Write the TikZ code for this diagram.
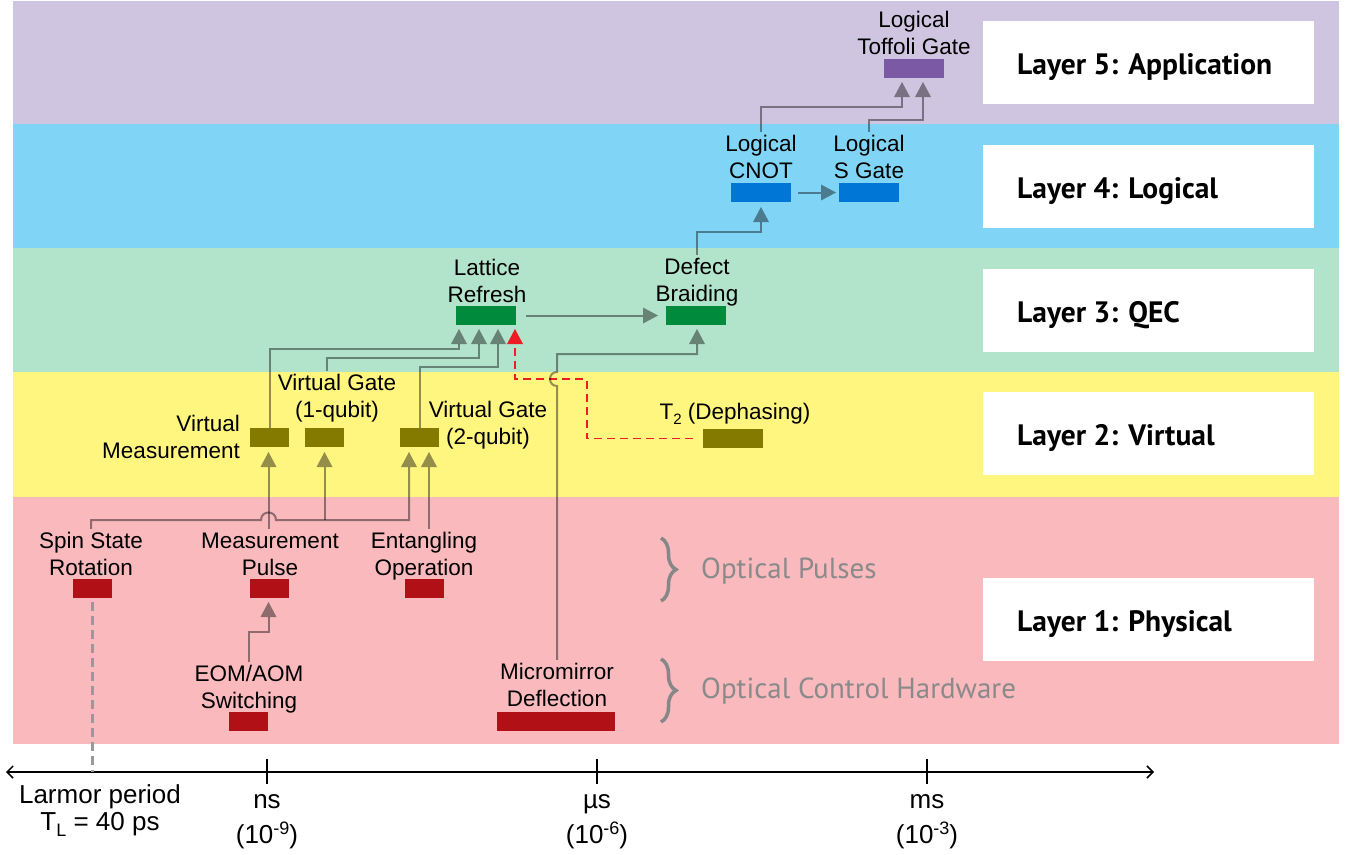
\documentclass[tikz,border=0pt]{standalone}
\usepackage{fontspec}
\setmainfont{Liberation Sans}
\newfontfamily\ptsans{PT Sans}
\usetikzlibrary{arrows.meta,decorations.pathreplacing}

% layer bands
\definecolor{bandApp}{HTML}{D0C5E0}
\definecolor{bandLog}{HTML}{80D5F7}
\definecolor{bandQec}{HTML}{B2E3CB}
\definecolor{bandVir}{HTML}{FFF680}
\definecolor{bandPhy}{HTML}{F9B9BD}
% operation bars
\definecolor{gatePurple}{HTML}{7B59A5}
\definecolor{gateBlue}{HTML}{0077D7}
\definecolor{gateGreen}{HTML}{008A3C}
\definecolor{gateOlive}{HTML}{857A00}
\definecolor{gateRed}{HTML}{B11116}
\definecolor{noteGrey}{HTML}{8A8A8A}
\definecolor{braceGrey}{HTML}{878787}
\definecolor{errRed}{HTML}{EE1C24}
\definecolor{larmorGrey}{HTML}{999999}

\newcommand\twoline[2]{\begin{tabular}[b]{@{}c@{}}#1\\#2\end{tabular}}
\newcommand\twolineR[2]{\begin{tabular}[b]{@{}r@{}}#1\\#2\end{tabular}}
\newcommand\twolineS[2]{\begin{tabular}[b]{@{}c@{}}#1\\[5pt]#2\end{tabular}}
\newcommand\lowidx[1]{\raisebox{-5pt}{\fontsize{15}{15}\selectfont #1}}
\newcommand\lowidxL[1]{\raisebox{-6pt}{\fontsize{18}{18}\selectfont #1}}
\newcommand\highidx[1]{\raisebox{9pt}{\fontsize{18}{18}\selectfont #1}}

\begin{document}
\begin{tikzpicture}[x=1pt,y=-1pt,
  gate/.style={rectangle, inner sep=0pt, minimum height=19pt, minimum width=60pt},
  gatesm/.style={gate, minimum width=39pt},
  lbl/.style={inner sep=0pt, anchor=base, font=\fontsize{22.5}{27}\selectfont},
  layerbox/.style={rectangle, fill=white, inner sep=0pt, minimum width=331pt, minimum height=83pt},
  layertext/.style={inner sep=0pt, anchor=base west, font=\ptsans\bfseries\fontsize{29.5}{30}\selectfont},
  grouptext/.style={inner sep=0pt, anchor=base west, text=noteGrey, font=\ptsans\fontsize{29}{30}\selectfont},
  flow/.style={draw=black, opacity=0.42, line width=2pt,
    -{Triangle[width=16pt,length=15pt,line width=0pt]}},
  errflow/.style={draw=errRed, line width=1.6pt, dash pattern=on 8pt off 5pt,
    -{Triangle[width=16pt,length=15pt,line width=0pt]}},
  bracestyle/.style={draw=braceGrey, line width=3.5pt,
    decorate, decoration={brace, amplitude=15pt}},
  axisline/.style={draw=black, line width=1.5pt},
  axislbl/.style={inner sep=0pt, anchor=base, font=\fontsize{26}{27}\selectfont}]

\useasboundingbox (0,0) rectangle (1356,854);

% ---- layer bands ----
\fill[bandApp] (13,1)   rectangle (1339,124);
\fill[bandLog] (13,124) rectangle (1339,248);
\fill[bandQec] (13,248) rectangle (1339,372);
\fill[bandVir] (13,372) rectangle (1339,497);
\fill[bandPhy] (13,497) rectangle (1339,744);

% ---- layer titles ----
\node[layerbox] (box5) at (1148.5,62.5)  {};
\node[layerbox] (box4) at (1148.5,186.5) {};
\node[layerbox] (box3) at (1148.5,310.5) {};
\node[layerbox] (box2) at (1148.5,433.5) {};
\node[layerbox] (box1) at (1148.5,619.5) {};
\node[layertext] (t5) at (1017,74)  {Layer 5: Application};
\node[layertext] (t4) at (1017,198) {Layer 4: Logical};
\node[layertext] (t3) at (1017,322) {Layer 3: QEC};
\node[layertext] (t2l) at (1017,445) {Layer 2: Virtual};
\node[layertext] (t1) at (1017,631) {Layer 1: Physical};

% ---- operations ----
\node[gate, fill=gatePurple] (tof)  at (914,68.5)  {};
\node[gate, fill=gateBlue]   (cnot) at (761,192.5) {};
\node[gate, fill=gateBlue]   (sg)   at (869,192.5) {};
\node[gate, fill=gateGreen]  (lr)   at (486,315.5) {};
\node[gate, fill=gateGreen]  (db)   at (696,315.5) {};
\node[gatesm, fill=gateOlive] (vm)  at (269.5,437.5) {};
\node[gatesm, fill=gateOlive] (vg1) at (324.5,437.5) {};
\node[gatesm, fill=gateOlive] (vg2) at (419.5,437.5) {};
\node[gate, fill=gateOlive]  (tt)   at (733,438.5) {};
\node[gatesm, fill=gateRed]  (ssr)  at (92.5,588.5) {};
\node[gatesm, fill=gateRed]  (mp)   at (269.5,588.5) {};
\node[gatesm, fill=gateRed]  (ent)  at (424.5,588.5) {};
\node[gatesm, fill=gateRed]  (eom)  at (248.5,721.5) {};
\node[gate, fill=gateRed, minimum width=118pt] (mm) at (556,721.5) {};

% ---- operation labels ----
\node[lbl] (tofL)  at (914,54)  {\twoline{Logical}{Toffoli Gate}};
\node[lbl] (cnotL) at (761,178) {\twoline{Logical}{CNOT}};
\node[lbl] (sgL)   at (869,178) {\twoline{Logical}{S Gate}};
\node[lbl] (lrL)   at (487,302) {\twoline{Lattice}{Refresh}};
\node[lbl] (dbL)   at (697,301) {\twoline{Defect}{Braiding}};
\node[lbl, anchor=base east] (vmL) at (240,458) {\twolineR{Virtual}{Measurement}};
\node[lbl] (vg1L)  at (337,417) {\twoline{Virtual Gate}{(1-qubit)}};
\node[lbl] (vg2L)  at (488,444) {\twoline{Virtual Gate}{(2-qubit)}};
\node[lbl] (ttL)   at (735,419) {T\lowidx{2} (Dephasing)};
\node[lbl] (ssrL)  at (91,575)  {\twoline{Spin State}{Rotation}};
\node[lbl] (mpL)   at (270,575) {\twoline{Measurement}{Pulse}};
\node[lbl] (entL)  at (424,575) {\twoline{Entangling}{Operation}};
\node[lbl] (eomL)  at (249,708) {\twoline{EOM/AOM}{Switching}};
\node[lbl] (mmL)   at (557,706) {\twoline{Micromirror}{Deflection}};

% ---- groupings in the physical layer ----
\draw[bracestyle] (661,538) -- (661,601);
\draw[bracestyle] (661,659) -- (661,722);
\node[grouptext] (gp) at (701,578) {Optical Pulses};
\node[grouptext] (gh) at (701,698) {Optical Control Hardware};

% ---- arrow targets ----
\coordinate (tofA) at (902,82);
\coordinate (tofB) at (923,82);
\coordinate (cnotIn) at (761,207);
\coordinate (sgIn) at (836,192.5);
\coordinate (dbInL) at (658,315.5);
\coordinate (dbInB) at (697,329);
\coordinate (lr1) at (459,329);
\coordinate (lr2) at (479,329);
\coordinate (lr3) at (498,329);
\coordinate (lr4) at (515,329);
\coordinate (vmIn) at (268.5,452);
\coordinate (vg1In) at (324.5,452);
\coordinate (vg2A) at (409,452);
\coordinate (vg2B) at (429,452);
\coordinate (mpIn) at (268.5,602);
\coordinate (split) at (324.5,520);

% ---- dependencies ----
\draw[flow] (cnotL.north) -- ++(0,-25) -| (tofA);
\draw[flow] (sgL.north) -- ++(0,-12) -| (tofB);
\draw[flow] ([xshift=7pt]cnot.east) -- (sgIn);
\draw[flow] (dbL.north) -- ++(0,-23) -| (cnotIn);
\draw[flow] ([xshift=10pt]lr.east) -- (dbInL);
\draw[flow] (vm.north) -- ++(0,-79) -| (lr1);
\draw[flow] ([xshift=2.5pt]vg1L.north -| vg1.north) -- ++(0,-13) -| (lr2);
\draw[flow] (vg2.north) -- ++(0,-61) -| (lr3);
\draw[errflow] ([xshift=-10pt]tt.west) -- ++(-106,0) -- ++(0,-59.5) -| (lr4);
\draw[flow] (mmL.north) -- (557,386)
  .. controls (547.7,386) and (547.7,372) .. (557,372)
  -- (557,354) -| (dbInB);
\draw[flow] (eomL.north) -- ++(0,-30) -| (mpIn);
\draw[flow] (ssrL.north) -- (91,520) -- (261,520)
  .. controls (261,510) and (276,510) .. (276,520)
  -| (vg2A);
\draw[flow] (split) -- (vg1In);
\draw[flow] (mpL.north -| mpIn) -- (vmIn);
\draw[flow] (entL.north -| vg2B) -- (vg2B);

% ---- time axis ----
\coordinate (axL) at (6,772);
\coordinate (axR) at (1154,772);
\draw[axisline, {Straight Barb[length=6pt,width=12pt]}-{Straight Barb[length=6pt,width=12pt]}] (axL) -- (axR);
\draw[draw=larmorGrey, line width=3pt, dash pattern=on 9pt off 5pt]
  ([yshift=-4pt]ssr.south) -- (ssr.south |- axL);
\draw[axisline] (267,759) -- (267,784);
\draw[axisline] (597,759) -- (597,784);
\draw[axisline] (927,759) -- (927,784);
\node[axislbl] (larmor) at (100,830) {\twoline{Larmor period}{T\lowidxL{L} = 40 ps}};
\node[axislbl] (ns) at (267,843) {\twolineS{ns}{(10\highidx{-9})}};
\node[axislbl] (us) at (597,843) {\twolineS{µs}{(10\highidx{-6})}};
\node[axislbl] (ms) at (927,843) {\twolineS{ms}{(10\highidx{-3})}};
\end{tikzpicture}
\end{document}
